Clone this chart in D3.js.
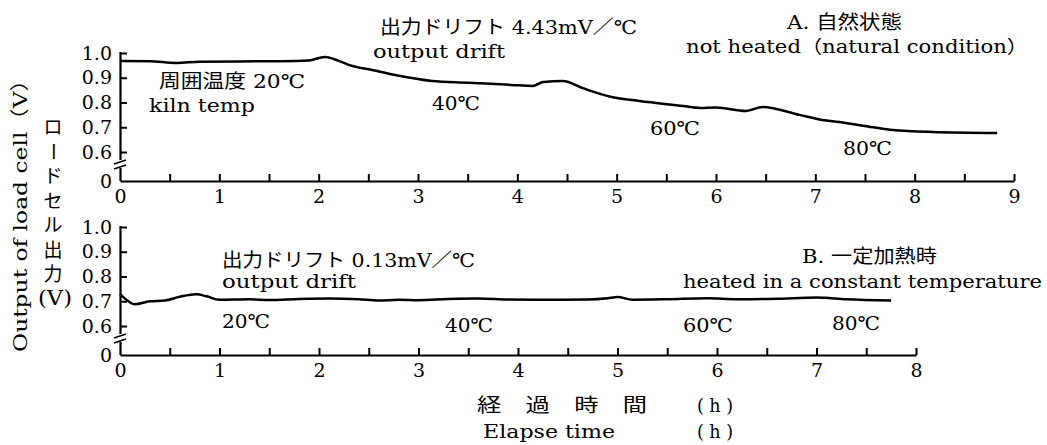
<!DOCTYPE html>
<html><head><meta charset="utf-8">
<script src="https://cdn.jsdelivr.net/npm/d3@7"></script>
<style>
html,body{margin:0;padding:0;background:#fff;}
text{fill:#000;}
</style></head>
<body>
<svg id="chart" width="1047" height="445"></svg>
<script>
// ---- data ----
const topTime   = [0,0.3,0.57,0.8,1.2,1.6,1.9,2.06,2.15,2.31,2.55,2.77,3.14,3.5,3.94,4.16,4.26,4.46,4.66,4.95,5.23,5.67,5.84,6.0,6.3,6.47,6.84,7.07,7.24,7.58,7.78,8.18,8.83];
const topOutput = [0.968,0.967,0.960,0.965,0.966,0.967,0.970,0.984,0.976,0.951,0.930,0.911,0.887,0.880,0.871,0.867,0.883,0.887,0.858,0.822,0.806,0.786,0.778,0.780,0.766,0.782,0.750,0.729,0.721,0.700,0.689,0.681,0.677];
const botTime   = [0,0.03,0.15,0.3,0.45,0.6,0.77,0.87,1.0,1.3,1.5,1.8,2.1,2.4,2.6,2.8,3.0,3.3,3.6,3.9,4.3,4.7,4.9,5.0,5.15,5.5,5.9,6.2,6.6,7.0,7.3,7.75];
const botOutput = [0.730,0.718,0.688,0.700,0.703,0.718,0.728,0.720,0.706,0.708,0.705,0.709,0.711,0.708,0.703,0.706,0.704,0.709,0.711,0.707,0.706,0.707,0.712,0.717,0.706,0.708,0.712,0.708,0.710,0.715,0.708,0.703];
const yTickValues = [0,0.6,0.7,0.8,0.9,1.0];
const topXTicks = [0,1,2,3,4,5,6,7,8,9];
const botXTicks = [0,1,2,3,4,5,6,7,8];
const topTempLabels = ["40℃","60℃","80℃"];
const botTempLabels = ["20℃","40℃","60℃","80℃"];

const svg = d3.select("#chart");
const LAT = "'DejaVu Serif','Noto Sans CJK JP',serif";
const JP = "'Noto Sans CJK JP',sans-serif";

function panel(cfg){
  const x = d3.scaleLinear().domain([0,cfg.xMax]).range([120,cfg.xEnd]);
  const y = d3.scaleLinear().domain([0,0.6,1.0]).range([cfg.y0,cfg.y0-29,cfg.y0-128]);
  const g = svg.append("g");
  // y axis line with break (drawn as filled bars)
  const top = y(1.0)-1, brk = y(0.6)+8;
  g.append("rect").attr("x",119.4).attr("y",top).attr("width",2.2).attr("height",brk-top).attr("fill","#000");
  g.append("rect").attr("x",119.4).attr("y",y(0.6)+16).attr("width",2.2).attr("height",cfg.y0-(y(0.6)+16)).attr("fill","#000");
  [0,5].forEach(o=>{
    g.append("line").attr("x1",114).attr("x2",126).attr("y1",y(0.6)+12+o).attr("y2",y(0.6)+8+o)
      .attr("stroke","#000").attr("stroke-width",1.6);
  });
  // y axis ticks (pointing right)
  const ya = d3.axisLeft(y).tickValues(cfg.yTicks).tickSizeInner(-7).tickSizeOuter(0).tickPadding(8)
     .tickFormat(d=> d===0 ? "0" : d3.format(".1f")(d));
  const yg = g.append("g").attr("transform","translate(120,0)").call(ya);
  yg.select(".domain").remove();
  yg.selectAll(".tick line").attr("stroke","#000").attr("stroke-width",2)
    .filter(d=>d===0).remove();
  yg.selectAll(".tick text").attr("font-family",LAT).attr("font-size",19).attr("fill","#000");
  // x axis
  const xa = d3.axisBottom(x).tickValues(d3.range(0,cfg.xMax+0.01,0.5)).tickSizeInner(-7).tickSizeOuter(0).tickPadding(9)
     .tickFormat(d=> cfg.xLabels.includes(d) ? String(d) : "");
  const xg = g.append("g").attr("transform",`translate(0,${cfg.y0})`).call(xa);
  xg.select(".domain").attr("stroke","#000").attr("stroke-width",2);
  xg.selectAll(".tick line").attr("stroke","#000").attr("stroke-width",2).filter(d=>d===0).remove();
  xg.selectAll(".tick text").attr("font-family",LAT).attr("font-size",19).attr("fill","#000");
  // data line
  const pts = cfg.t.map((t,i)=>[t,cfg.v[i]]);
  g.append("path").datum(pts)
    .attr("d",d3.line().x(d=>x(d[0])).y(d=>y(d[1])).curve(d3.curveMonotoneX))
    .attr("fill","none").attr("stroke","#000").attr("stroke-width",2.5).attr("stroke-linejoin","round");
}

panel({xMax:9,xEnd:1014,y0:181,yTicks:yTickValues,xLabels:topXTicks,t:topTime,v:topOutput});
panel({xMax:8,xEnd:916,y0:355,yTicks:yTickValues,xLabels:botXTicks,t:botTime,v:botOutput});

function label(str,x,y,w,size,fam){
  const t = svg.append("text").attr("x",x).attr("y",y).attr("font-family",fam||LAT)
    .attr("font-size",size||18).text(str);
  if(w) t.attr("textLength",w).attr("lengthAdjust","spacingAndGlyphs");
  return t;
}
// top annotations
label("出力ドリフト 4.43mV／℃",380,34,257,19);
label("output drift",373,58,132,18);
label("A. 自然状態",787,29,115,19);
label("not heated（natural condition）",686,53,342,18);
label("周囲温度 20℃",159,88,146,19);
label("kiln temp",149,112,106,18);
label(topTempLabels[0],432,110,48,19);
label(topTempLabels[1],650,135,50,19);
label(topTempLabels[2],843,155,49,19);
// bottom annotations
label("出力ドリフト 0.13mV／℃",222,267,253,19);
label("output drift",222,288,134,18);
label("B. 一定加熱時",802,263,135,19);
label("heated in a constant temperature",683,288,359,18);
label(botTempLabels[0],222,328,48,19);
label(botTempLabels[1],445,332,48,19);
label(botTempLabels[2],683,332,50,19);
label(botTempLabels[3],832,330,48,19);
// x axis titles
label("経　過　時　間",477,412,170,19);
label("( h )",697,412,36,18);
label("Elapse time",483,438,132,18);
label("( h )",697,438,36,18);
// y axis titles
svg.append("text").attr("transform","translate(27,210) rotate(-90)").attr("text-anchor","middle")
  .attr("font-family",LAT).attr("font-size",19).attr("textLength",284).attr("lengthAdjust","spacingAndGlyphs")
  .text("Output of load cell（V）");
const jpChars = ["ロ","ー","ド","セ","ル","出","力"];
jpChars.forEach((c,i)=>{
  const t = svg.append("text").attr("x",53).attr("y",134+i*24.5).attr("text-anchor","middle")
    .attr("font-family",JP).attr("font-size",19).text(c);
  if(c==="ー") t.attr("transform",`rotate(90,53,${134+i*24.5-7})`);
});
svg.append("text").attr("x",55).attr("y",305).attr("text-anchor","middle").attr("font-family",LAT)
  .attr("font-size",20).attr("textLength",34).attr("lengthAdjust","spacingAndGlyphs").text("(V)");
</script>
</body></html>
